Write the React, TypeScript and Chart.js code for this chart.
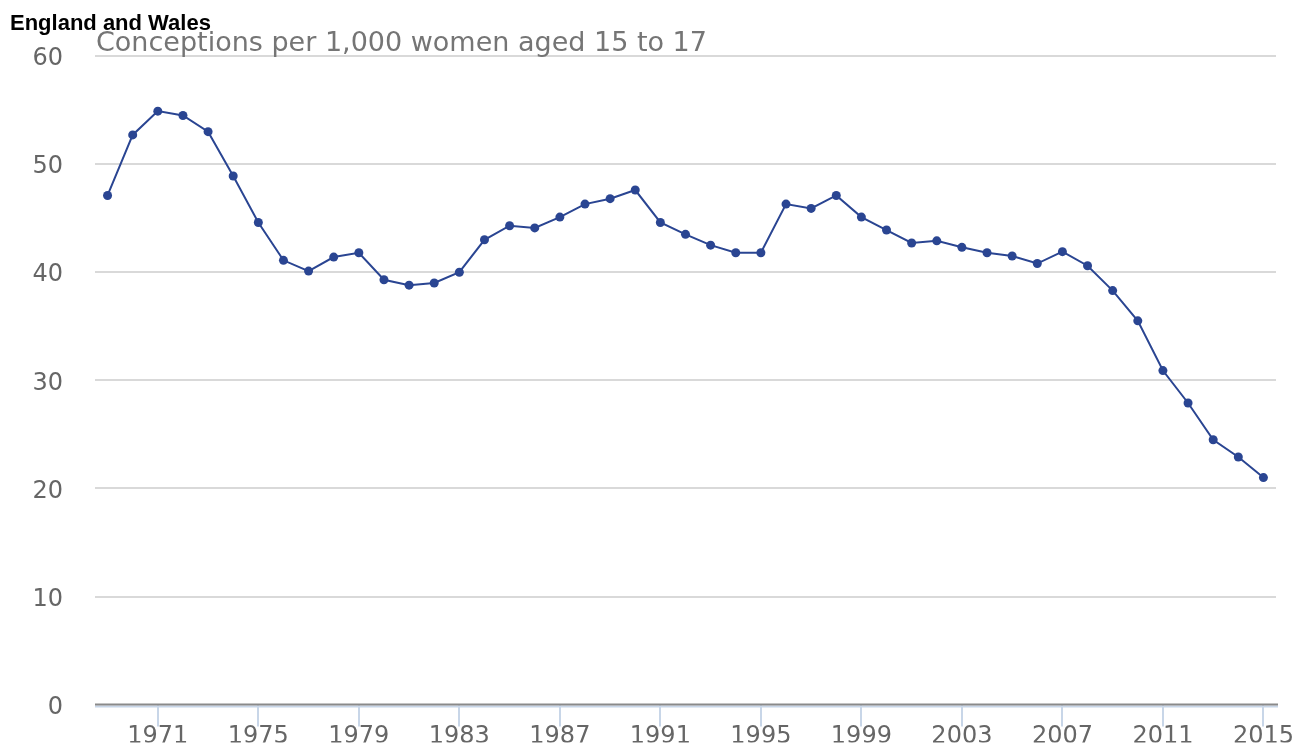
import React, { useEffect, useRef } from "react";
import { Chart, registerables } from "chart.js";

Chart.register(...registerables);

const years: number[] = [
  1969, 1970, 1971, 1972, 1973, 1974, 1975, 1976, 1977, 1978, 1979, 1980,
  1981, 1982, 1983, 1984, 1985, 1986, 1987, 1988, 1989, 1990, 1991, 1992,
  1993, 1994, 1995, 1996, 1997, 1998, 1999, 2000, 2001, 2002, 2003, 2004,
  2005, 2006, 2007, 2008, 2009, 2010, 2011, 2012, 2013, 2014, 2015,
];

const rates: number[] = [
  47.1, 52.7, 54.9, 54.5, 53.0, 48.9, 44.6, 41.1, 40.1, 41.4, 41.8, 39.3,
  38.8, 39.0, 40.0, 43.0, 44.3, 44.1, 45.1, 46.3, 46.8, 47.6, 44.6, 43.5,
  42.5, 41.8, 41.8, 46.3, 45.9, 47.1, 45.1, 43.9, 42.7, 42.9, 42.3, 41.8,
  41.5, 40.8, 41.9, 40.6, 38.3, 35.5, 30.9, 27.9, 24.5, 22.9, 21.0,
];

const xTickYears: number[] = [1971, 1975, 1979, 1983, 1987, 1991, 1995, 1999, 2003, 2007, 2011, 2015];
const yTicks: number[] = [0, 10, 20, 30, 40, 50, 60];

const titleText = "England and Wales";
const subtitleText = "Conceptions per 1,000 women aged 15 to 17";

const baselinePlugin = {
  id: "baselinePlugin",
  afterDraw(chart: any) {
    const { ctx, chartArea } = chart;
    const y0 = chart.scales.y.getPixelForValue(0);
    ctx.save();
    ctx.lineWidth = 2;
    ctx.strokeStyle = "#c8d6e8";
    ctx.beginPath();
    ctx.moveTo(chartArea.left, y0 + 2);
    ctx.lineTo(chartArea.right + 2, y0 + 2);
    ctx.stroke();
    ctx.strokeStyle = "#8a8a8a";
    ctx.beginPath();
    ctx.moveTo(chartArea.left, y0);
    ctx.lineTo(chartArea.right + 2, y0);
    ctx.stroke();
    ctx.restore();
  },
};

export default function App() {
  const canvasRef = useRef<HTMLCanvasElement | null>(null);

  useEffect(() => {
    if (!canvasRef.current) return;
    const chart = new Chart(canvasRef.current, {
      type: "line",
      data: {
        datasets: [
          {
            data: years.map((y, i) => ({ x: y, y: rates[i] })),
            borderColor: "#2a4592",
            backgroundColor: "#2a4592",
            borderWidth: 2,
            pointRadius: 4.5,
            pointBorderWidth: 0,
            pointBackgroundColor: "#2a4592",
            tension: 0,
          },
        ],
      },
      options: {
        animation: false,
        responsive: false,
        layout: { padding: { top: 56, right: 19, left: 0, bottom: 0 } },
        plugins: { legend: { display: false }, tooltip: { enabled: false }, title: { display: false } },
        scales: {
          x: {
            type: "linear",
            min: 1968.5,
            max: 2015.5,
            afterBuildTicks: (scale: any) => {
              scale.ticks = xTickYears.map((v) => ({ value: v }));
            },
            afterFit: (scale: any) => {
              scale.height = 38;
            },
            grid: {
              drawOnChartArea: false,
              drawTicks: true,
              tickLength: 22,
              color: "#c8d6e8",
              lineWidth: 2,
            },
            border: { display: false },
            ticks: {
              autoSkip: false,
              maxRotation: 0,
              padding: -2,
              color: "#666666",
              font: { family: "DejaVu Sans", size: 24, lineHeight: 1 },
              callback: (v: any) => String(v),
            },
          },
          y: {
            min: 0,
            max: 60,
            afterBuildTicks: (scale: any) => {
              scale.ticks = yTicks.map((v) => ({ value: v }));
            },
            afterFit: (scale: any) => {
              scale.width = 95;
            },
            grid: {
              drawTicks: false,
              color: (ctx: any) => (ctx.tick && ctx.tick.value === 0 ? "rgba(0,0,0,0)" : "#d9d9d9"),
              lineWidth: 2,
            },
            border: { display: false },
            ticks: {
              padding: 32,
              labelOffset: 3,
              color: "#666666",
              font: { family: "DejaVu Sans", size: 24 },
            },
          },
        },
      },
      plugins: [baselinePlugin],
    });
    return () => chart.destroy();
  }, []);

  return (
    <div style={{ position: "fixed", left: 0, top: 0, width: 1295, height: 751, background: "#ffffff" }}>
      <canvas ref={canvasRef} width={1295} height={751} style={{ position: "absolute", left: 0, top: 0 }} />
      <div
        style={{
          position: "absolute",
          left: 10,
          top: 10,
          fontFamily: "Liberation Sans, Arial, sans-serif",
          fontWeight: "bold",
          fontSize: 22,
          color: "#000000",
          lineHeight: "normal",
          whiteSpace: "nowrap",
        }}
      >
        {titleText}
      </div>
      <div
        style={{
          position: "absolute",
          left: 96,
          top: 26,
          fontFamily: "DejaVu Sans, sans-serif",
          fontSize: 27,
          color: "#757575",
          lineHeight: "normal",
          whiteSpace: "nowrap",
        }}
      >
        {subtitleText}
      </div>
    </div>
  );
}
